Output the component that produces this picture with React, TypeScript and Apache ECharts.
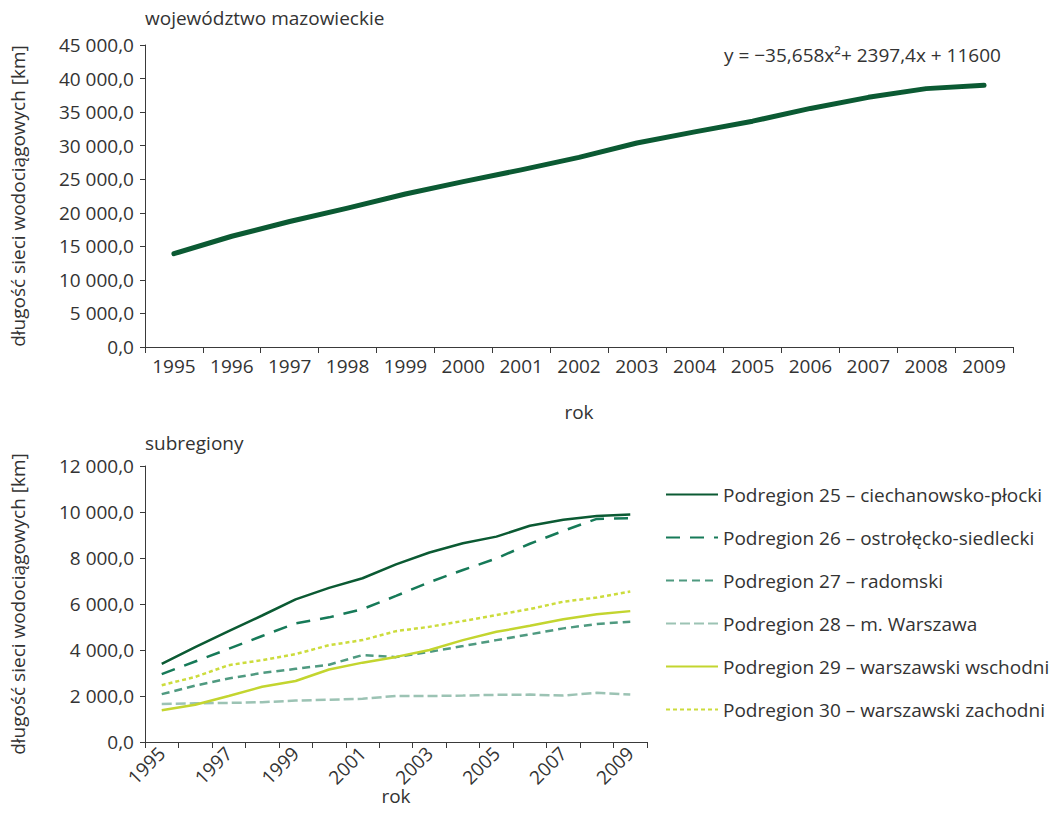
import React, { useEffect, useRef } from "react";
import * as echarts from "echarts";

const years = ["1995", "1996", "1997", "1998", "1999", "2000", "2001", "2002", "2003", "2004", "2005", "2006", "2007", "2008", "2009"];

const totalValues = [13900, 16500, 18700, 20700, 22800, 24650, 26400, 28250, 30400, 32050, 33650, 35550, 37200, 38500, 39000];

const topTitle = "województwo mazowieckie";
const bottomTitle = "subregiony";
const equationText = "y = −35,658x²+ 2397,4x + 11600";
const yAxisName = "długość sieci wodociągowych [km]";
const xAxisName = "rok";

const subregionNames = [
  "Podregion 25 – ciechanowsko-płocki",
  "Podregion 26 – ostrołęcko-siedlecki",
  "Podregion 27 – radomski",
  "Podregion 28 – m. Warszawa",
  "Podregion 29 – warszawski wschodni",
  "Podregion 30 – warszawski zachodni",
];

const s25 = [3400, 4120, 4820, 5500, 6200, 6700, 7120, 7720, 8240, 8640, 8930, 9400, 9660, 9830, 9890];
const s26 = [2950, 3500, 4050, 4610, 5160, 5420, 5780, 6350, 6950, 7480, 7980, 8620, 9180, 9700, 9730];
const s27 = [2080, 2450, 2760, 3000, 3180, 3360, 3780, 3690, 3920, 4170, 4430, 4680, 4940, 5130, 5230];
const s28 = [1650, 1680, 1700, 1730, 1800, 1840, 1880, 2000, 2000, 2020, 2050, 2060, 2020, 2140, 2060];
const s29 = [1380, 1620, 2000, 2400, 2650, 3150, 3450, 3700, 4000, 4430, 4790, 5050, 5340, 5550, 5690];
const s30 = [2470, 2830, 3340, 3560, 3820, 4210, 4430, 4820, 5010, 5260, 5520, 5780, 6100, 6280, 6540];

const subregionValues = [s25, s26, s27, s28, s29, s30];
const subregionColors = ["#0b5a33", "#167a58", "#4f9a80", "#9cc3b4", "#c3d52f", "#ccdc3c"];
const subregionDash: any[] = ["solid", [14, 10], [8, 5], [10, 4], "solid", [4, 3]];

const FONT = "Open Sans";
const TXT = "#333333";
const FS = 19;

function fmt(v: number): string {
  const s = Math.round(v).toString().replace(/\B(?=(\d{3})+(?!\d))/g, " ");
  return s + ",0";
}

export default function App() {
  const ref = useRef<HTMLDivElement>(null);
  useEffect(() => {
    if (!ref.current) return;
    const chart = echarts.init(ref.current, undefined, { renderer: "svg" });
    const axisLine = { show: true, lineStyle: { color: "#3a3a3a", width: 1 } };
    const axisTick = { show: true, length: 6, lineStyle: { color: "#3a3a3a", width: 1 } };
    const labelStyle = { color: TXT, fontFamily: FONT, fontSize: FS };
    const option: any = {
      animation: false,
      backgroundColor: "#ffffff",
      textStyle: { fontFamily: FONT, color: TXT },
      grid: [
        { left: 145, top: 45, width: 868, height: 302, containLabel: false },
        { left: 145, top: 466, width: 502, height: 276, containLabel: false },
      ],
      xAxis: [
        {
          gridIndex: 0,
          type: "category",
          data: years,
          boundaryGap: true,
          axisLine,
          axisTick: { ...axisTick, interval: 0 },
          axisLabel: { ...labelStyle, interval: 0, margin: 9 },
          name: xAxisName,
          nameLocation: "middle",
          nameGap: 55,
          nameTextStyle: labelStyle,
        },
        {
          gridIndex: 1,
          type: "category",
          data: years,
          boundaryGap: true,
          axisLine,
          axisTick: { ...axisTick, interval: 0 },
          axisLabel: { ...labelStyle, interval: 1, rotate: 45, margin: 8 },
          name: xAxisName,
          nameLocation: "middle",
          nameGap: 44,
          nameMoveOverlap: false,
          nameTextStyle: labelStyle,
        },
      ],
      yAxis: [
        {
          gridIndex: 0,
          type: "value",
          min: 0,
          max: 45000,
          interval: 5000,
          axisLine,
          axisTick: { ...axisTick, length: 5 },
          splitLine: { show: false },
          axisLabel: { ...labelStyle, margin: 11, formatter: (v: number) => fmt(v) },
          name: yAxisName,
          nameLocation: "middle",
          nameGap: 118,
          nameRotate: 90,
          nameTextStyle: labelStyle,
        },
        {
          gridIndex: 1,
          type: "value",
          min: 0,
          max: 12000,
          interval: 2000,
          axisLine,
          axisTick: { ...axisTick, length: 5 },
          splitLine: { show: false },
          axisLabel: { ...labelStyle, margin: 11, formatter: (v: number) => fmt(v) },
          name: yAxisName,
          nameLocation: "middle",
          nameGap: 118,
          nameRotate: 90,
          nameTextStyle: labelStyle,
        },
      ],
      legend: {
        orient: "vertical",
        left: 660,
        top: 480,
        itemWidth: 52,
        itemHeight: 12,
        itemGap: 24,
        itemStyle: { color: "transparent", borderWidth: 0, opacity: 0 },
        textStyle: { ...labelStyle },
        data: subregionNames,
      },
      graphic: [
        { type: "text", left: 145, top: 8, style: { text: topTitle, font: `${FS}px '${FONT}'`, fill: TXT } },
        { type: "text", left: 145, top: 433, style: { text: bottomTitle, font: `${FS}px '${FONT}'`, fill: TXT } },
        { type: "text", left: 724, top: 45, style: { text: equationText, font: `${FS}px '${FONT}'`, fill: TXT } },
      ],
      series: [
        {
          type: "line",
          name: "mazowieckie",
          xAxisIndex: 0,
          yAxisIndex: 0,
          data: totalValues,
          symbol: "none",
          lineStyle: { color: "#0b5a33", width: 5, cap: "round", join: "round" },
          itemStyle: { color: "#0b5a33" },
        },
        ...subregionNames.map((name, i) => ({
          type: "line",
          name,
          xAxisIndex: 1,
          yAxisIndex: 1,
          data: subregionValues[i],
          symbol: "none",
          lineStyle: { color: subregionColors[i], width: 2.5, type: subregionDash[i] },
          itemStyle: { color: subregionColors[i] },
        })),
      ],
    };
    chart.setOption(option);
    return () => chart.dispose();
  }, []);
  return (
    <div
      ref={ref}
      style={{ position: "fixed", left: 0, top: 0, width: 1058, height: 829, background: "#fff" }}
    />
  );
}
